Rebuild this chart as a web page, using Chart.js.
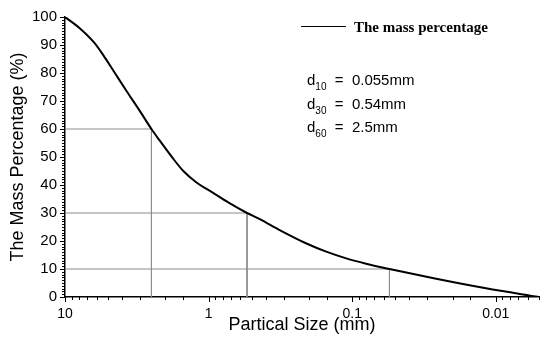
<!DOCTYPE html>
<html>
<head>
<meta charset="utf-8">
<script src="https://cdn.jsdelivr.net/npm/chart.js@4"></script>
<style>
  body { margin: 0; background: #fff; }
  #wrap { position: relative; width: 550px; height: 343px; }
  #legend { position: absolute; left: 301px; top: 19px; font: bold 15px "Liberation Serif", "Times New Roman", serif; color: #000; white-space: nowrap; }
  #legend .swatch { display: inline-block; width: 45px; border-top: 1.5px solid #000; vertical-align: middle; margin-right: 8px; position: relative; top: -2px; }
  .dval { position: absolute; left: 307px; font: 15px "Liberation Sans", Arial, sans-serif; color: #000; white-space: nowrap; line-height: 18px; }
  .dval sub { font-size: 10px; vertical-align: -5px; line-height: 0; }
</style>
</head>
<body>
<div id="wrap">
  <canvas id="chart" width="550" height="343"></canvas>
  <div id="legend"><span class="swatch"></span>The mass percentage</div>
  <div id="notes"></div>
</div>
<script>
// grading curve
const sizes = [10, 7.9, 6.3, 5.4, 4.6, 3.7, 3.0, 2.5, 2.2, 1.77, 1.5, 1.22, 0.93, 0.72, 0.54, 0.44, 0.32, 0.21, 0.15, 0.11, 0.08, 0.055, 0.026, 0.0117, 0.005];
const percent = [100, 96, 91, 86.3, 80.8, 73.3, 66.3, 60, 56, 49.5, 45, 41, 37.2, 33.6, 30, 27.8, 23.9, 19.2, 16.1, 13.8, 11.9, 10, 6.5, 3.1, 0];

// characteristic diameters
const levels = [10, 30, 60];
const diameters = [0.055, 0.54, 2.5];
const noteLabels = ['0.055mm', '0.54mm', '2.5mm'];

const xMin = 0.005, xMax = 10;
const yTicks = [0, 10, 20, 30, 40, 50, 60, 70, 80, 90, 100];

const font = "'Liberation Sans', Arial, sans-serif";

// notes text
const notes = document.getElementById('notes');
levels.forEach((lv, i) => {
    const div = document.createElement('div');
    div.className = 'dval';
    div.style.top = (71 + i * 23.5) + 'px';
    div.innerHTML = 'd<sub>' + lv + '</sub> &nbsp;=&nbsp; ' + noteLabels[i];
    notes.appendChild(div);
});

const guideSets = levels.map((lv, i) => ({
    data: [{ x: xMax, y: lv }, { x: diameters[i], y: lv }, { x: diameters[i], y: 0 }],
    borderColor: '#8c8c8c',
    borderWidth: 1,
    pointRadius: 0,
    tension: 0
}));

// outward tick marks, major and minor
const tickMarks = {
    id: 'tickMarks',
    afterDraw(chart) {
        const { ctx, scales: { x, y } } = chart;
        ctx.save();
        ctx.strokeStyle = '#000';
        ctx.lineWidth = 1;
        ctx.beginPath();
        x.ticks.forEach(t => {
            const lg = Math.log10(t.value);
            const major = Math.abs(lg - Math.round(lg)) < 1e-6;
            const px = Math.round(x.getPixelForValue(t.value)) + 0.5;
            ctx.moveTo(px, x.top);
            ctx.lineTo(px, x.top + (major ? 5 : 3));
        });
        for (let v = 0; v <= 100; v++) {
            const py = Math.round(y.getPixelForValue(v)) + 0.5;
            ctx.moveTo(y.right, py);
            ctx.lineTo(y.right - (v % 10 === 0 ? 5 : 3), py);
        }
        ctx.stroke();
        ctx.restore();
    }
};

const ctx = document.getElementById('chart').getContext('2d');
new Chart(ctx, {
    type: 'line',
    data: {
        datasets: [{
            data: sizes.map((s, i) => ({ x: s, y: percent[i] })),
            borderColor: '#000',
            borderWidth: 2,
            pointRadius: 0,
            cubicInterpolationMode: 'monotone'
        }, ...guideSets]
    },
    options: {
        responsive: false,
        animation: false,
        layout: { padding: { top: 14, right: 11, left: 0, bottom: 0 } },
        plugins: { legend: { display: false }, tooltip: { enabled: false } },
        scales: {
            x: {
                type: 'logarithmic',
                reverse: true,
                min: xMin,
                max: xMax,
                grid: { display: false, drawTicks: false, tickLength: 0 },
                border: { display: true, color: '#000', width: 1.5 },
                ticks: {
                    autoSkip: false,
                    maxRotation: 0,
                    padding: 9,
                    color: '#000',
                    font: { family: font, size: 14 },
                    callback: v => {
                        const lg = Math.log10(v);
                        return Math.abs(lg - Math.round(lg)) < 1e-6 ? String(v) : '';
                    }
                },
                title: {
                    display: true,
                    text: 'Partical Size (mm)',
                    color: '#000',
                    font: { family: font, size: 18 },
                    padding: { top: 0, bottom: 7 }
                },
                afterFit: s => { s.height = 46; }
            },
            y: {
                min: 0,
                max: 100,
                grid: { display: false, drawTicks: false, tickLength: 0 },
                border: { display: true, color: '#000', width: 1.5 },
                afterBuildTicks: s => { s.ticks = yTicks.map(v => ({ value: v })); },
                ticks: {
                    padding: 8,
                    color: '#000',
                    font: { family: font, size: 15 }
                },
                title: {
                    display: true,
                    text: 'The Mass Percentage (%)',
                    color: '#000',
                    font: { family: font, size: 18 },
                    padding: { top: 7, bottom: 0 }
                },
                afterFit: s => { s.width = 65; }
            }
        }
    },
    plugins: [tickMarks]
});
</script>
</body>
</html>
